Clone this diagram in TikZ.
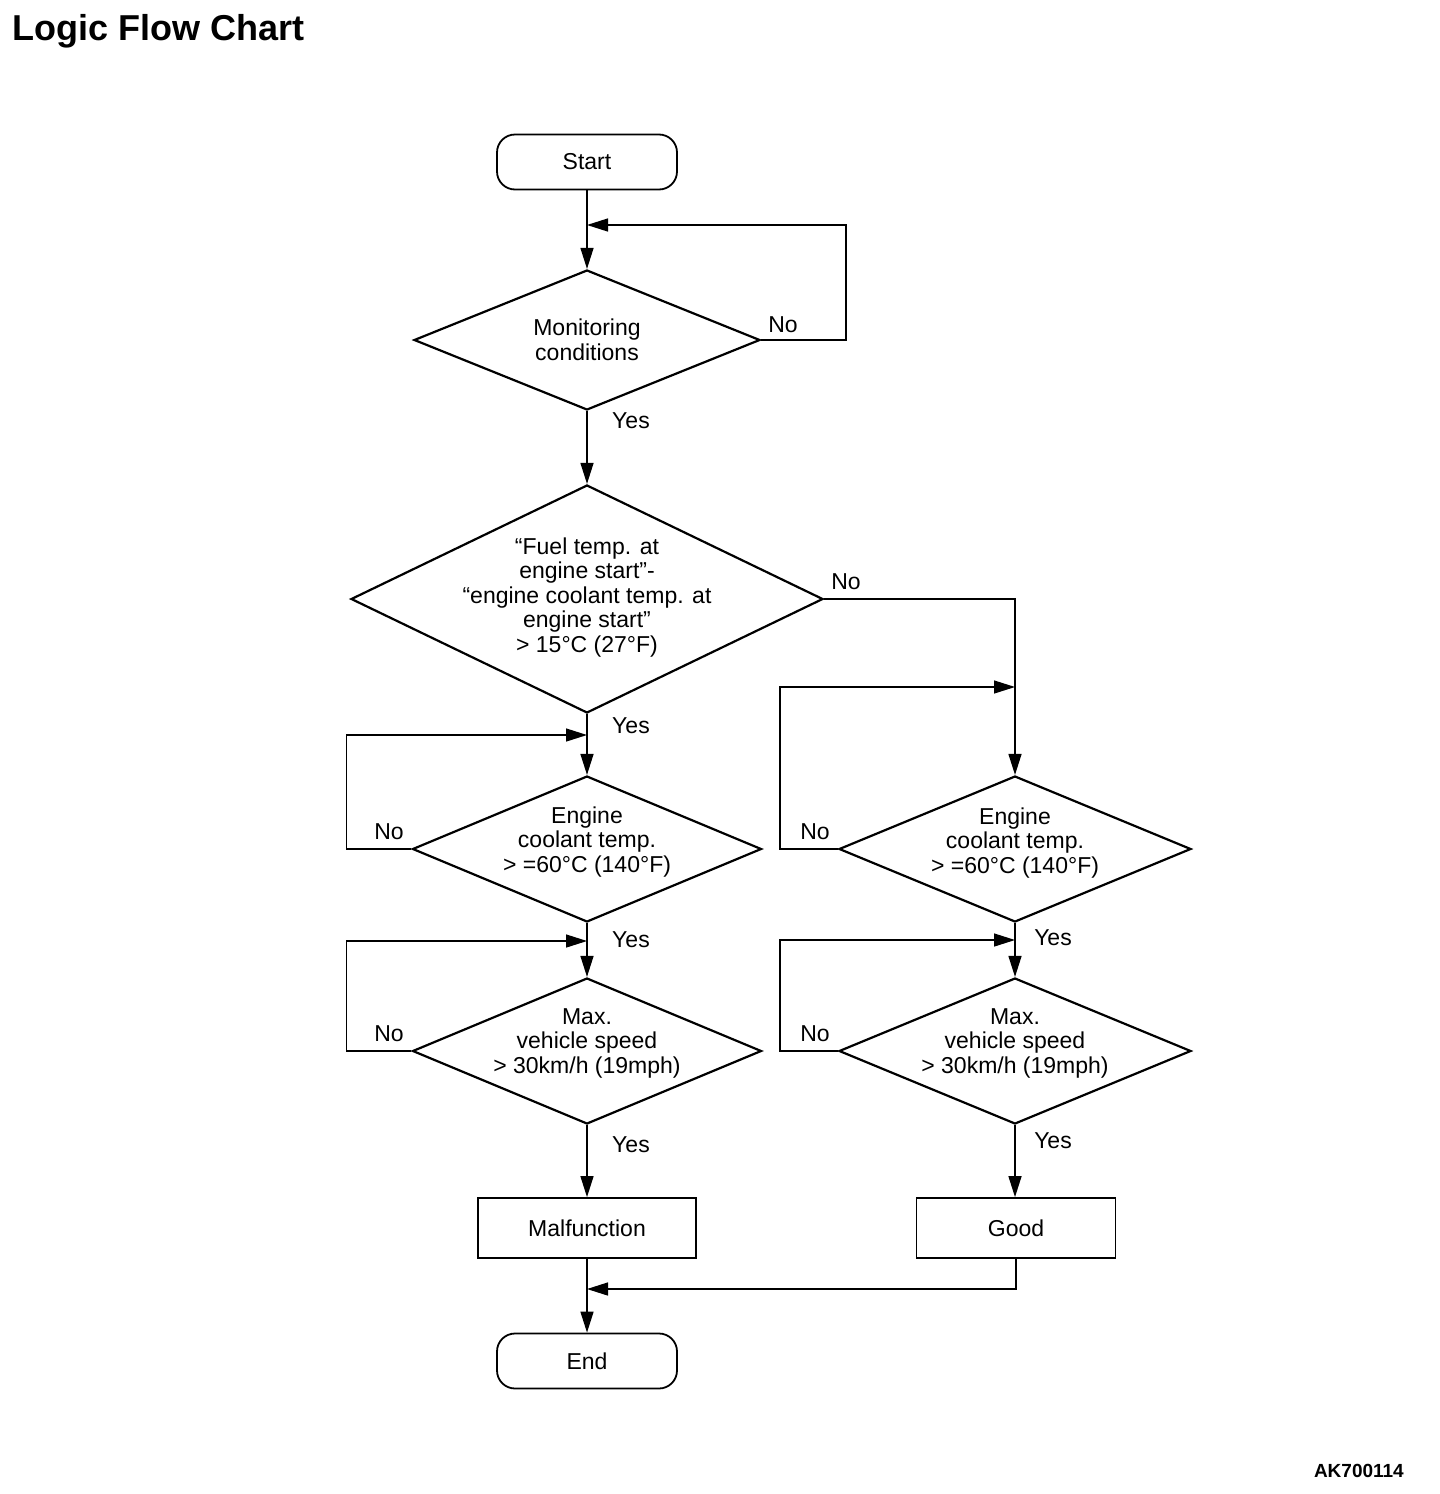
\documentclass[tikz,border=0pt]{standalone}
\usepackage{fontspec}
\setmainfont{Liberation Sans}
\usetikzlibrary{arrows.meta}
\usetikzlibrary{shapes.geometric,positioning}

\begin{document}
\begin{tikzpicture}[x=1pt,y=-1pt]
  \tikzset{terminal/.style = {shape=rectangle,draw,rounded corners=18pt,minimum width=180pt,minimum height=55pt,line width=1.8pt,font=\fontsize{23}{24.5}\selectfont}}
  \tikzset{process/.style = {shape=rectangle,draw,minimum height=60pt,line width=1.8pt,font=\fontsize{23}{24.5}\selectfont}}
  \tikzset{decision/.style = {shape=diamond,draw,inner sep=0pt,line width=2.2pt}}
  \tikzset{dtext/.style = {align=center,inner sep=0pt,font=\fontsize{23}{24.5}\selectfont}}
  \tikzset{lbl/.style = {inner sep=0pt,font=\fontsize{23}{24.5}\selectfont}}
  \tikzset{edge/.style = {line width=1.4pt,-{Triangle[length=21pt,width=13pt]}}}

  \useasboundingbox (0,0) rectangle (1440,1494);

  \node[anchor=base west,inner sep=0pt,font=\fontsize{36}{40}\selectfont\bfseries] (title) at (12,40) {Logic Flow Chart};
  \node[anchor=base east,inner sep=0pt,font=\fontsize{19}{22}\selectfont\bfseries] (code) at (1404,1477) {AK700114};

  % main column
  \node[terminal] (start) at (587,162) {Start};
  \node[decision,minimum width=346pt,minimum height=140pt,
    label={[dtext]center:Monitoring\\conditions}] (mon) at (587,340) {};
  \node[decision,minimum width=472pt,minimum height=228pt,
    label={[dtext,yshift=1.5pt]center:“Fuel temp. at\\engine start”-\\“engine coolant temp. at\\engine start”\\> 15°C (27°F)}] (fuel) at (587,599) {};
  \node[decision,minimum width=349pt,minimum height=146pt,
    label={[dtext,yshift=7pt]center:Engine\\coolant temp.\\> =60°C (140°F)}] (eA) at (587,849) {};
  \node[decision,minimum width=349pt,minimum height=146pt,
    label={[dtext,yshift=8pt]center:Max.\\vehicle speed\\> 30km/h (19mph)}] (vA) at (587,1051) {};
  \node[process,minimum width=218pt] (mal) at (587,1228) {Malfunction};
  \node[terminal] (end) at (587,1361) {End};

  % right column
  \node[decision,minimum width=352pt,minimum height=146pt,
    label={[dtext,yshift=6pt]center:Engine\\coolant temp.\\> =60°C (140°F)}] (eB) at (1015,849) {};
  \node[decision,minimum width=352pt,minimum height=146pt,
    label={[dtext,yshift=8pt]center:Max.\\vehicle speed\\> 30km/h (19mph)}] (vB) at (1015,1051) {};
  \node[process,minimum width=199pt] (good) at (1016,1228) {Good};

  % junctions
  \coordinate (jMon) at (587,225);
  \coordinate (jA1) at (587,735);
  \coordinate (jA2) at (587,941);
  \coordinate (jB1) at (1015,687);
  \coordinate (jB2) at (1015,940);
  \coordinate (jEnd) at (587,1289);

  \foreach \from/\to in {start/mon, mon/fuel, fuel/eA, eA/vA, vA/mal, mal/end, eB/vB}
    \path[edge](\from) edge (\to);
  \draw[edge] (vB.south) -- (vB.south |- good.north);

  \draw[edge] (mon.east) -- ++(85,0) |- (jMon);
  \draw[edge] (fuel.east) -| (eB);
  \draw[edge] (eA.west) -- ++(-65,0) |- (jA1);
  \draw[edge] (vA.west) -- ++(-65,0) |- (jA2);
  \draw[edge] (eB.west) -- ++(-58,0) |- (jB1);
  \draw[edge] (vB.west) -- ++(-58,0) |- (jB2);
  \draw[edge] (good.south) |- (jEnd);

  % branch labels
  \node[lbl] (noMon) at (783,325) {No};
  \node[lbl] (yesMon) at (631,421) {Yes};
  \node[lbl] (noFuel) at (846,582) {No};
  \node[lbl] (yesFuel) at (631,726) {Yes};
  \node[lbl] (noA1) at (389,832) {No};
  \node[lbl] (yesA1) at (631,940) {Yes};
  \node[lbl] (noA2) at (389,1034) {No};
  \node[lbl] (yesA2) at (631,1145) {Yes};
  \node[lbl] (noB1) at (815,832) {No};
  \node[lbl] (yesB1) at (1053,938) {Yes};
  \node[lbl] (noB2) at (815,1034) {No};
  \node[lbl] (yesB2) at (1053,1141) {Yes};
\end{tikzpicture}
\end{document}
